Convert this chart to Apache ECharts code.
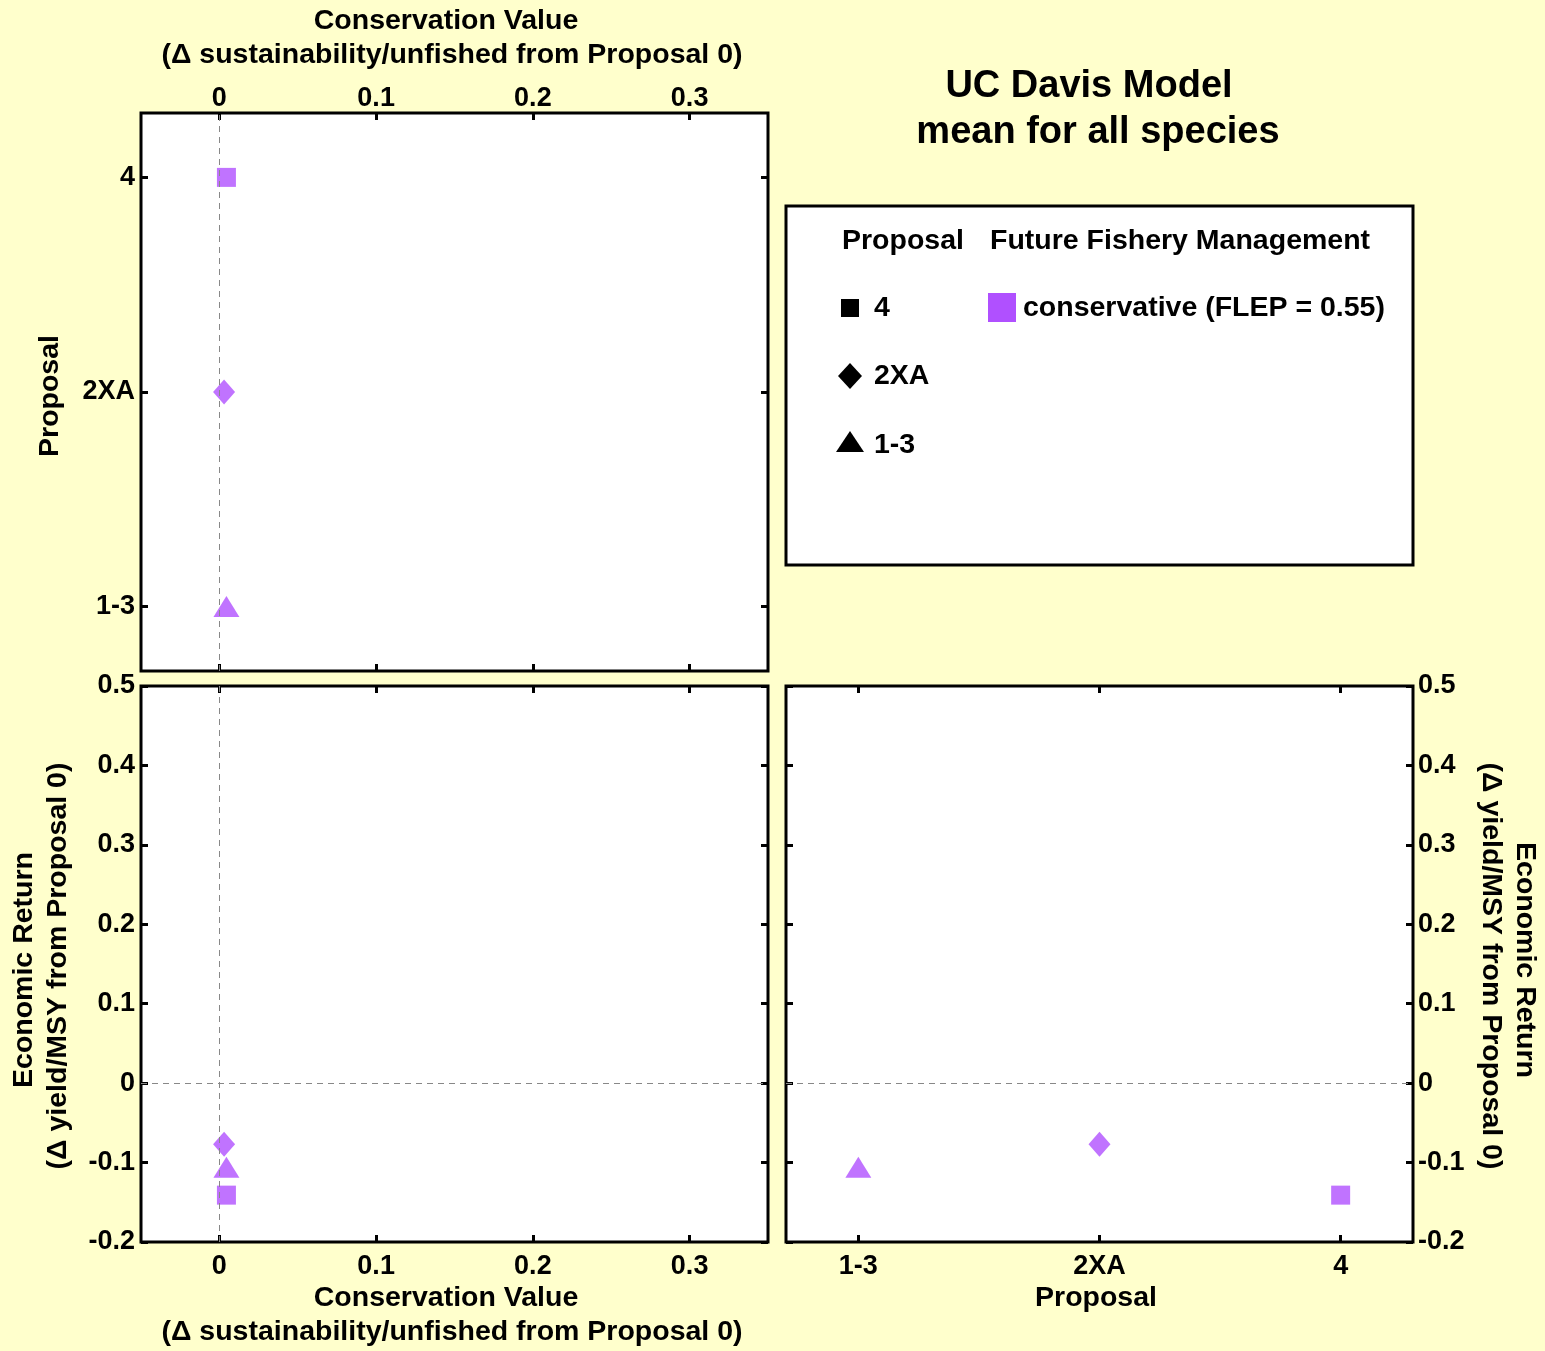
<!DOCTYPE html>
<html>
<head>
<meta charset="utf-8">
<script src="https://cdn.jsdelivr.net/npm/echarts@6/dist/echarts.min.js"></script>
<style>
  html, body { margin: 0; padding: 0; background: #ffffcc; }
  #chart { width: 1545px; height: 1351px; }
</style>
</head>
<body>
<div id="chart"></div>
<script>
// Proposals, in axis order (1 = 1-3, 2 = 2XA, 3 = 4)
const proposals = ['1-3', '2XA', '4'];
const proposalPos = [1, 2, 3];
const proposalSymbols = ['triangle', 'diamond', 'rect'];
const proposalSymbolSizes = [[26, 21], [22, 25], [19, 19]];

// Mean over all species, conservative management (FLEP = 0.55)
const conservationValue = [0.0045, 0.003, 0.0045];   // Δ sustainability/unfished
const economicReturn = [-0.106, -0.077, -0.141];    // Δ yield/MSY

// Tick values
const conservationTicks = [0, 0.1, 0.2, 0.3];
const proposalTicks = [1, 2, 3];

const FONT = '"Liberation Sans", Arial, sans-serif';
const PURPLE = '#b050ff';
const tickFont = { color: '#000', fontFamily: FONT, fontWeight: 'bold', fontSize: 27 };
const tickStyle = { show: true, inside: true, length: 7, lineStyle: { color: '#000', width: 3 } };

const consRange = { min: -0.05, max: 0.35 };
const propRange = { min: 0.7, max: 3.3 };
const econRange = { min: -0.2, max: 0.5, interval: 0.1 };

const fmtNum = v => String(Math.round(v * 10) / 10);
const fmtProp = v => proposals[Math.round(v) - 1] || '';

function axis(gridIndex, position, range, opts) {
  const a = Object.assign({
    type: 'value', gridIndex, position,
    axisLine: { show: false, onZero: false },
    splitLine: { show: false },
    axisTick: Object.assign({}, tickStyle),
    axisLabel: Object.assign({ show: false }, tickFont)
  }, range);
  if (opts.ticks) {
    a.axisTick.customValues = opts.ticks;
    a.axisLabel.customValues = opts.ticks;
  }
  if (opts.labels) {
    a.axisLabel.show = true;
    a.axisLabel.formatter = opts.fmt;
    a.axisLabel.margin = opts.margin;
  }
  return a;
}

function points(xs, ys) {
  return xs.map((x, i) => ({
    value: [x, ys[i]],
    symbol: proposalSymbols[i],
    symbolSize: proposalSymbolSizes[i]
  }));
}

const dashed = { color: '#888', type: [6, 5], width: 1 };
function refLines(list) {
  return { silent: true, symbol: 'none', label: { show: false }, lineStyle: dashed, data: list };
}

const gridBase = { show: true, backgroundColor: '#fff', borderColor: '#000', borderWidth: 3 };

function txt(x, y, text, size, extra) {
  return {
    type: 'text', x, y, z: 10,
    style: Object.assign({
      text, fill: '#000', fontFamily: FONT, fontWeight: 'bold', fontSize: size,
      textAlign: 'center', textVerticalAlign: 'middle'
    }, extra || {})
  };
}
function rotTxt(x, y, text, size, rot) {
  return {
    type: 'text', x, y, rotation: rot, z: 10,
    style: { text, fill: '#000', fontFamily: FONT, fontWeight: 'bold', fontSize: size,
      textAlign: 'center', textVerticalAlign: 'middle' }
  };
}

const chart = echarts.init(document.getElementById('chart'));
chart.setOption({
  backgroundColor: '#ffffcc',
  animation: false,
  grid: [
    Object.assign({ left: 141, top: 113, width: 627, height: 558 }, gridBase),
    Object.assign({ left: 141, top: 686, width: 627, height: 556 }, gridBase),
    Object.assign({ left: 786, top: 686, width: 627, height: 556 }, gridBase)
  ],
  xAxis: [
    axis(0, 'top', consRange, { ticks: conservationTicks, labels: true, fmt: fmtNum, margin: 1 }),
    axis(0, 'bottom', consRange, { ticks: conservationTicks }),
    axis(1, 'bottom', consRange, { ticks: conservationTicks, labels: true, fmt: fmtNum, margin: 11 }),
    axis(1, 'top', consRange, { ticks: conservationTicks }),
    axis(2, 'bottom', propRange, { ticks: proposalTicks, labels: true, fmt: fmtProp, margin: 11 }),
    axis(2, 'top', propRange, { ticks: proposalTicks })
  ],
  yAxis: [
    axis(0, 'left', propRange, { ticks: proposalTicks, labels: true, fmt: fmtProp, margin: 6 }),
    axis(0, 'right', propRange, { ticks: proposalTicks }),
    axis(1, 'left', econRange, { labels: true, fmt: fmtNum, margin: 6 }),
    axis(1, 'right', econRange, {}),
    axis(2, 'right', econRange, { labels: true, fmt: fmtNum, margin: 5 }),
    axis(2, 'left', econRange, {})
  ],
  series: [
    {
      type: 'scatter', xAxisIndex: 0, yAxisIndex: 0,
      itemStyle: { color: PURPLE },
      data: points(conservationValue, proposalPos),
      markLine: refLines([{ xAxis: 0 }])
    },
    {
      type: 'scatter', xAxisIndex: 2, yAxisIndex: 2,
      itemStyle: { color: PURPLE },
      data: points(conservationValue, economicReturn),
      markLine: refLines([{ xAxis: 0 }, { yAxis: 0 }])
    },
    {
      type: 'scatter', xAxisIndex: 4, yAxisIndex: 4,
      itemStyle: { color: PURPLE },
      data: points(proposalPos, economicReturn),
      markLine: refLines([{ yAxis: 0 }])
    }
  ],
  graphic: [
    // axis titles
    txt(446, 21, 'Conservation Value', 28.5),
    txt(452, 55, '(\u0394 sustainability/unfished from Proposal 0)', 28.5),
    txt(446, 1298, 'Conservation Value', 28.5),
    txt(452, 1332, '(\u0394 sustainability/unfished from Proposal 0)', 28.5),
    txt(1096, 1298, 'Proposal', 28.5),
    rotTxt(50, 396, 'Proposal', 28.5, Math.PI / 2),
    rotTxt(24, 970, 'Economic Return', 28.5, Math.PI / 2),
    rotTxt(58, 966, '(\u0394 yield/MSY from Proposal 0)', 28.5, Math.PI / 2),
    rotTxt(1525, 960, 'Economic Return', 28.5, -Math.PI / 2),
    rotTxt(1491, 966, '(\u0394 yield/MSY from Proposal 0)', 28.5, -Math.PI / 2),
    // chart title
    txt(1089, 87, 'UC Davis Model', 38),
    txt(1098, 133, 'mean for all species', 38),
    // legend box
    {
      type: 'rect', z: 5,
      shape: { x: 786, y: 206, width: 627, height: 359 },
      style: { fill: '#fff', stroke: '#000', lineWidth: 3 }
    },
    txt(842, 241, 'Proposal', 28.5, { textAlign: 'left' }),
    txt(990, 241, 'Future Fishery Management', 28.5, { textAlign: 'left' }),
    { type: 'rect', z: 10, shape: { x: 841, y: 299, width: 18, height: 18 }, style: { fill: '#000' } },
    txt(874, 308, '4', 28.5, { textAlign: 'left' }),
    { type: 'polygon', z: 10, shape: { points: [[850, 363], [862, 376], [850, 389], [838, 376]] }, style: { fill: '#000' } },
    txt(874, 376, '2XA', 28.5, { textAlign: 'left' }),
    { type: 'polygon', z: 10, shape: { points: [[850, 431], [864, 452], [836, 452]] }, style: { fill: '#000' } },
    txt(874, 445, '1-3', 28.5, { textAlign: 'left' }),
    { type: 'rect', z: 10, shape: { x: 988, y: 293, width: 28, height: 29 }, style: { fill: PURPLE } },
    txt(1023, 308, 'conservative (FLEP = 0.55)', 28.5, { textAlign: 'left' })
  ]
});
</script>
</body>
</html>
